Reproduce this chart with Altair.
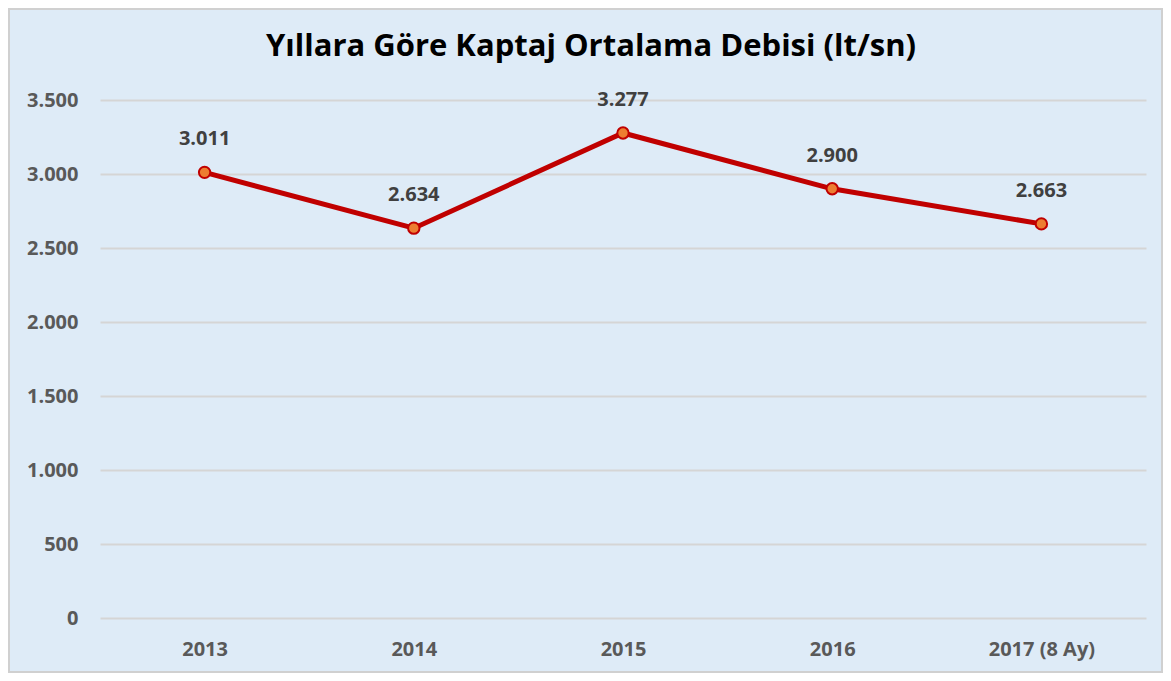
import altair as alt
import pandas as pd

years = ["2013", "2014", "2015", "2016", "2017 (8 Ay)"]
values = [3011, 2634, 3277, 2900, 2663]
y_ticks = [0, 500, 1000, 1500, 2000, 2500, 3000, 3500]

df = pd.DataFrame({"year": years, "value": values})

W, H = 1046, 518
PL, PT, PR, PB = 92, 92, 17, 55
FONT = "Open Sans"

x = alt.X("year:N", sort=years, title=None,
          scale=alt.Scale(paddingInner=0, paddingOuter=0),
          axis=alt.Axis(labelAngle=0, labelFont=FONT, labelFontSize=20, labelFontWeight="bold",
                        labelColor="#595959", labelPadding=21, ticks=False, domain=False, grid=False))
y = alt.Y("value:Q", title=None,
          scale=alt.Scale(domain=[0, 3500]),
          axis=alt.Axis(values=y_ticks, labelFont=FONT, labelFontSize=20, labelFontWeight="bold",
                        labelColor="#595959", labelPadding=22, ticks=False, domain=False,
                        gridColor="#D5D5D5", gridWidth=2,
                        labelExpr="replace(format(datum.value, ','), ',', '.')"))

base = alt.Chart(df)

border = base.mark_rect(fill=None, stroke="#D0D0D0", strokeWidth=2).encode(
    x=alt.value(-PL + 1), x2=alt.value(W + PR - 1),
    y=alt.value(-PT + 1), y2=alt.value(H + PB - 1)
).transform_filter("datum.year == '2013'")

line = base.mark_line(color="#C00000", strokeWidth=5).encode(x=x, y=y)
points = base.mark_point(filled=True, fill="#ED7D31", stroke="#C00000", strokeWidth=2,
                         size=130, opacity=1, shape="circle").encode(x=x, y=y)
labels = base.transform_calculate(
    lbl="replace(format(datum.value, ','), ',', '.')"
).mark_text(font=FONT, fontSize=20, fontWeight="bold", color="#404040",
            baseline="middle", dy=-33).encode(x=x, y=y, text="lbl:N")

chart = alt.layer(border, line, points, labels).properties(
    width=W, height=H,
    autosize=alt.AutoSizeParams(type="none"),
    padding={"left": PL, "top": PT, "right": PR, "bottom": PB},
    background="#DEEBF7",
    title=alt.TitleParams("Yıllara Göre Kaptaj Ortalama Debisi (lt/sn)", font=FONT, fontSize=31,
                          fontWeight="bold", color="#000000", anchor="middle", frame="group",
                          dx=-32, offset=0, dy=55)
).configure_view(stroke=None)

chart.save("out.html", embed_options={"renderer": "svg", "actions": False})
